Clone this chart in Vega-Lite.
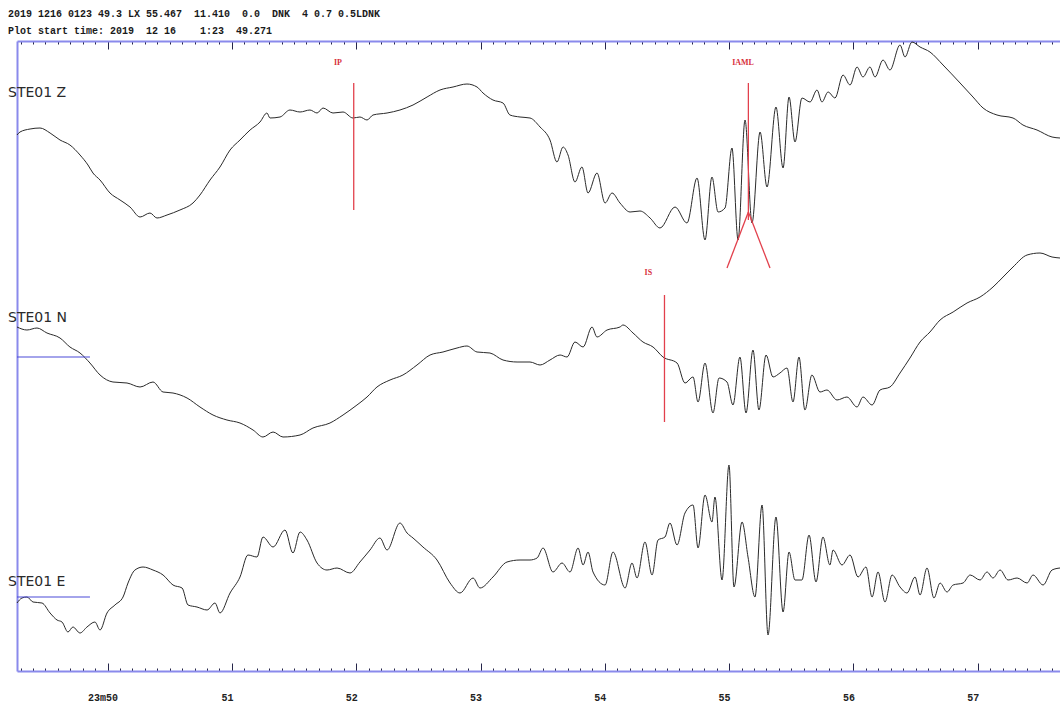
{
  "$schema": "https://vega.github.io/schema/vega-lite/v6.json",
  "width": 1043,
  "height": 630,
  "autosize": {"type": "none"},
  "padding": {"left": 17, "top": 41, "right": 0, "bottom": 33},
  "background": "white",
  "config": {
    "view": {"stroke": null},
    "title": {"font": "Liberation Mono", "fontSize": 10, "fontWeight": "bold", "color": "#1a1a1a", "subtitleFont": "Liberation Mono", "subtitleFontSize": 10, "subtitleFontWeight": "bold", "subtitleColor": "#1a1a1a", "subtitlePadding": 7, "anchor": "start", "offset": 4}
  },
  "title": {"text": "2019 1216 0123 49.3 LX 55.467 \u00a011.410 \u00a00.0 \u00a0DNK \u00a04 0.7 0.5LDNK", "subtitle": "Plot start time: 2019 \u00a012 16 \u00a0\u00a0\u00a01:23 \u00a049.271"},
  "datasets": {
    "traces": [
      {"c":"Z","t":49.271,"a":537},{"c":"Z","t":49.295,"a":540},{"c":"Z","t":49.376,"a":543},{"c":"Z","t":49.456,"a":544},{"c":"Z","t":49.537,"a":539},{"c":"Z","t":49.617,"a":532},{"c":"Z","t":49.697,"a":527},{"c":"Z","t":49.778,"a":517},{"c":"Z","t":49.842,"a":507},{"c":"Z","t":49.882,"a":499},{"c":"Z","t":49.939,"a":492},{"c":"Z","t":50.019,"a":479},{"c":"Z","t":50.1,"a":472},{"c":"Z","t":50.18,"a":465},{"c":"Z","t":50.261,"a":455},{"c":"Z","t":50.341,"a":459},{"c":"Z","t":50.397,"a":454},{"c":"Z","t":50.478,"a":457},{"c":"Z","t":50.582,"a":462},{"c":"Z","t":50.687,"a":469},{"c":"Z","t":50.743,"a":477},{"c":"Z","t":50.824,"a":492},{"c":"Z","t":50.904,"a":505},{"c":"Z","t":50.985,"a":522},{"c":"Z","t":51.065,"a":532},{"c":"Z","t":51.146,"a":542},{"c":"Z","t":51.226,"a":550},{"c":"Z","t":51.282,"a":559},{"c":"Z","t":51.306,"a":554},{"c":"Z","t":51.387,"a":555},{"c":"Z","t":51.467,"a":562},{"c":"Z","t":51.548,"a":560},{"c":"Z","t":51.628,"a":562},{"c":"Z","t":51.685,"a":559},{"c":"Z","t":51.733,"a":564},{"c":"Z","t":51.813,"a":559},{"c":"Z","t":51.894,"a":560},{"c":"Z","t":51.974,"a":554},{"c":"Z","t":52.03,"a":555},{"c":"Z","t":52.087,"a":552},{"c":"Z","t":52.135,"a":557},{"c":"Z","t":52.248,"a":559},{"c":"Z","t":52.352,"a":562},{"c":"Z","t":52.457,"a":567},{"c":"Z","t":52.57,"a":575},{"c":"Z","t":52.674,"a":582},{"c":"Z","t":52.779,"a":585},{"c":"Z","t":52.891,"a":588},{"c":"Z","t":52.972,"a":585},{"c":"Z","t":53.02,"a":579},{"c":"Z","t":53.1,"a":572},{"c":"Z","t":53.181,"a":569},{"c":"Z","t":53.237,"a":557},{"c":"Z","t":53.318,"a":555},{"c":"Z","t":53.398,"a":554},{"c":"Z","t":53.479,"a":545},{"c":"Z","t":53.559,"a":532},{"c":"Z","t":53.615,"a":510},{"c":"Z","t":53.664,"a":525},{"c":"Z","t":53.704,"a":517},{"c":"Z","t":53.76,"a":490},{"c":"Z","t":53.816,"a":505},{"c":"Z","t":53.865,"a":479},{"c":"Z","t":53.937,"a":499},{"c":"Z","t":54.002,"a":469},{"c":"Z","t":54.058,"a":479},{"c":"Z","t":54.122,"a":469},{"c":"Z","t":54.203,"a":460},{"c":"Z","t":54.283,"a":461},{"c":"Z","t":54.364,"a":454},{"c":"Z","t":54.444,"a":444},{"c":"Z","t":54.565,"a":465},{"c":"Z","t":54.661,"a":449},{"c":"Z","t":54.742,"a":494},{"c":"Z","t":54.806,"a":432},{"c":"Z","t":54.862,"a":495},{"c":"Z","t":54.911,"a":460},{"c":"Z","t":54.967,"a":464},{"c":"Z","t":55.023,"a":524},{"c":"Z","t":55.072,"a":432},{"c":"Z","t":55.128,"a":552},{"c":"Z","t":55.184,"a":449},{"c":"Z","t":55.249,"a":540},{"c":"Z","t":55.305,"a":485},{"c":"Z","t":55.377,"a":565},{"c":"Z","t":55.434,"a":504},{"c":"Z","t":55.482,"a":575},{"c":"Z","t":55.53,"a":530},{"c":"Z","t":55.586,"a":574},{"c":"Z","t":55.651,"a":570},{"c":"Z","t":55.707,"a":582},{"c":"Z","t":55.747,"a":570},{"c":"Z","t":55.796,"a":580},{"c":"Z","t":55.852,"a":574},{"c":"Z","t":55.916,"a":597},{"c":"Z","t":55.973,"a":587},{"c":"Z","t":56.029,"a":605},{"c":"Z","t":56.077,"a":595},{"c":"Z","t":56.133,"a":605},{"c":"Z","t":56.174,"a":595},{"c":"Z","t":56.238,"a":612},{"c":"Z","t":56.294,"a":602},{"c":"Z","t":56.375,"a":627},{"c":"Z","t":56.415,"a":615},{"c":"Z","t":56.471,"a":630},{"c":"Z","t":56.536,"a":625},{"c":"Z","t":56.616,"a":620},{"c":"Z","t":56.721,"a":607},{"c":"Z","t":56.858,"a":589},{"c":"Z","t":56.962,"a":575},{"c":"Z","t":57.043,"a":564},{"c":"Z","t":57.155,"a":557},{"c":"Z","t":57.284,"a":554},{"c":"Z","t":57.364,"a":547},{"c":"Z","t":57.477,"a":542},{"c":"Z","t":57.598,"a":535},{"c":"Z","t":57.662,"a":534},
      {"c":"N","t":49.271,"a":345},{"c":"N","t":49.351,"a":342},{"c":"N","t":49.432,"a":344},{"c":"N","t":49.512,"a":339},{"c":"N","t":49.617,"a":334},{"c":"N","t":49.697,"a":325},{"c":"N","t":49.778,"a":319},{"c":"N","t":49.858,"a":309},{"c":"N","t":49.939,"a":297},{"c":"N","t":50.043,"a":290},{"c":"N","t":50.156,"a":289},{"c":"N","t":50.261,"a":285},{"c":"N","t":50.365,"a":290},{"c":"N","t":50.446,"a":280},{"c":"N","t":50.526,"a":279},{"c":"N","t":50.639,"a":274},{"c":"N","t":50.743,"a":265},{"c":"N","t":50.848,"a":257},{"c":"N","t":50.96,"a":252},{"c":"N","t":51.065,"a":249},{"c":"N","t":51.17,"a":242},{"c":"N","t":51.25,"a":235},{"c":"N","t":51.331,"a":240},{"c":"N","t":51.411,"a":235},{"c":"N","t":51.548,"a":237},{"c":"N","t":51.652,"a":244},{"c":"N","t":51.789,"a":249},{"c":"N","t":51.894,"a":257},{"c":"N","t":52.006,"a":267},{"c":"N","t":52.087,"a":275},{"c":"N","t":52.167,"a":285},{"c":"N","t":52.272,"a":292},{"c":"N","t":52.376,"a":297},{"c":"N","t":52.489,"a":307},{"c":"N","t":52.594,"a":317},{"c":"N","t":52.698,"a":320},{"c":"N","t":52.811,"a":324},{"c":"N","t":52.891,"a":326},{"c":"N","t":52.972,"a":320},{"c":"N","t":53.076,"a":319},{"c":"N","t":53.181,"a":312},{"c":"N","t":53.294,"a":310},{"c":"N","t":53.398,"a":310},{"c":"N","t":53.479,"a":307},{"c":"N","t":53.559,"a":312},{"c":"N","t":53.64,"a":317},{"c":"N","t":53.696,"a":315},{"c":"N","t":53.76,"a":330},{"c":"N","t":53.825,"a":325},{"c":"N","t":53.897,"a":345},{"c":"N","t":53.937,"a":335},{"c":"N","t":54.018,"a":342},{"c":"N","t":54.122,"a":345},{"c":"N","t":54.146,"a":347},{"c":"N","t":54.227,"a":339},{"c":"N","t":54.307,"a":330},{"c":"N","t":54.388,"a":325},{"c":"N","t":54.468,"a":315},{"c":"N","t":54.581,"a":309},{"c":"N","t":54.645,"a":289},{"c":"N","t":54.71,"a":295},{"c":"N","t":54.75,"a":270},{"c":"N","t":54.806,"a":309},{"c":"N","t":54.87,"a":259},{"c":"N","t":54.919,"a":294},{"c":"N","t":54.983,"a":290},{"c":"N","t":55.031,"a":267},{"c":"N","t":55.087,"a":315},{"c":"N","t":55.136,"a":259},{"c":"N","t":55.192,"a":322},{"c":"N","t":55.24,"a":262},{"c":"N","t":55.297,"a":317},{"c":"N","t":55.353,"a":295},{"c":"N","t":55.409,"a":299},{"c":"N","t":55.466,"a":304},{"c":"N","t":55.514,"a":270},{"c":"N","t":55.562,"a":315},{"c":"N","t":55.61,"a":262},{"c":"N","t":55.666,"a":297},{"c":"N","t":55.731,"a":280},{"c":"N","t":55.787,"a":282},{"c":"N","t":55.868,"a":272},{"c":"N","t":55.948,"a":275},{"c":"N","t":56.029,"a":265},{"c":"N","t":56.077,"a":275},{"c":"N","t":56.15,"a":267},{"c":"N","t":56.214,"a":282},{"c":"N","t":56.294,"a":285},{"c":"N","t":56.375,"a":299},{"c":"N","t":56.455,"a":314},{"c":"N","t":56.536,"a":330},{"c":"N","t":56.616,"a":340},{"c":"N","t":56.697,"a":352},{"c":"N","t":56.802,"a":360},{"c":"N","t":56.914,"a":369},{"c":"N","t":57.019,"a":375},{"c":"N","t":57.123,"a":385},{"c":"N","t":57.204,"a":395},{"c":"N","t":57.284,"a":405},{"c":"N","t":57.397,"a":417},{"c":"N","t":57.501,"a":419},{"c":"N","t":57.598,"a":415},{"c":"N","t":57.662,"a":414},
      {"c":"E","t":49.271,"a":69},{"c":"E","t":49.311,"a":74},{"c":"E","t":49.351,"a":75},{"c":"E","t":49.4,"a":70},{"c":"E","t":49.472,"a":69},{"c":"E","t":49.537,"a":59},{"c":"E","t":49.593,"a":52},{"c":"E","t":49.633,"a":50},{"c":"E","t":49.681,"a":40},{"c":"E","t":49.721,"a":45},{"c":"E","t":49.778,"a":39},{"c":"E","t":49.834,"a":45},{"c":"E","t":49.898,"a":50},{"c":"E","t":49.939,"a":42},{"c":"E","t":49.995,"a":59},{"c":"E","t":50.059,"a":67},{"c":"E","t":50.124,"a":75},{"c":"E","t":50.164,"a":89},{"c":"E","t":50.22,"a":102},{"c":"E","t":50.285,"a":105},{"c":"E","t":50.365,"a":102},{"c":"E","t":50.446,"a":97},{"c":"E","t":50.526,"a":87},{"c":"E","t":50.599,"a":84},{"c":"E","t":50.647,"a":67},{"c":"E","t":50.719,"a":65},{"c":"E","t":50.8,"a":62},{"c":"E","t":50.864,"a":69},{"c":"E","t":50.904,"a":59},{"c":"E","t":50.985,"a":79},{"c":"E","t":51.065,"a":95},{"c":"E","t":51.129,"a":117},{"c":"E","t":51.202,"a":115},{"c":"E","t":51.25,"a":135},{"c":"E","t":51.331,"a":125},{"c":"E","t":51.427,"a":142},{"c":"E","t":51.491,"a":119},{"c":"E","t":51.548,"a":140},{"c":"E","t":51.604,"a":132},{"c":"E","t":51.685,"a":109},{"c":"E","t":51.765,"a":102},{"c":"E","t":51.846,"a":104},{"c":"E","t":51.95,"a":99},{"c":"E","t":52.03,"a":110},{"c":"E","t":52.111,"a":122},{"c":"E","t":52.191,"a":134},{"c":"E","t":52.248,"a":122},{"c":"E","t":52.352,"a":149},{"c":"E","t":52.409,"a":139},{"c":"E","t":52.457,"a":134},{"c":"E","t":52.537,"a":125},{"c":"E","t":52.65,"a":112},{"c":"E","t":52.755,"a":89},{"c":"E","t":52.835,"a":79},{"c":"E","t":52.94,"a":94},{"c":"E","t":52.996,"a":84},{"c":"E","t":53.1,"a":95},{"c":"E","t":53.213,"a":110},{"c":"E","t":53.318,"a":112},{"c":"E","t":53.398,"a":112},{"c":"E","t":53.455,"a":114},{"c":"E","t":53.503,"a":124},{"c":"E","t":53.583,"a":100},{"c":"E","t":53.656,"a":109},{"c":"E","t":53.72,"a":100},{"c":"E","t":53.785,"a":124},{"c":"E","t":53.825,"a":107},{"c":"E","t":53.865,"a":120},{"c":"E","t":53.905,"a":100},{"c":"E","t":54.002,"a":87},{"c":"E","t":54.066,"a":120},{"c":"E","t":54.163,"a":84},{"c":"E","t":54.219,"a":109},{"c":"E","t":54.259,"a":94},{"c":"E","t":54.323,"a":130},{"c":"E","t":54.38,"a":97},{"c":"E","t":54.428,"a":132},{"c":"E","t":54.484,"a":135},{"c":"E","t":54.524,"a":149},{"c":"E","t":54.581,"a":127},{"c":"E","t":54.645,"a":159},{"c":"E","t":54.71,"a":167},{"c":"E","t":54.75,"a":124},{"c":"E","t":54.806,"a":177},{"c":"E","t":54.862,"a":150},{"c":"E","t":54.886,"a":175},{"c":"E","t":54.943,"a":92},{"c":"E","t":54.999,"a":207},{"c":"E","t":55.039,"a":85},{"c":"E","t":55.104,"a":150},{"c":"E","t":55.152,"a":115},{"c":"E","t":55.208,"a":75},{"c":"E","t":55.265,"a":167},{"c":"E","t":55.313,"a":37},{"c":"E","t":55.377,"a":155},{"c":"E","t":55.434,"a":60},{"c":"E","t":55.482,"a":120},{"c":"E","t":55.53,"a":92},{"c":"E","t":55.586,"a":92},{"c":"E","t":55.643,"a":137},{"c":"E","t":55.699,"a":90},{"c":"E","t":55.755,"a":135},{"c":"E","t":55.811,"a":107},{"c":"E","t":55.836,"a":122},{"c":"E","t":55.908,"a":107},{"c":"E","t":55.973,"a":117},{"c":"E","t":56.037,"a":95},{"c":"E","t":56.101,"a":105},{"c":"E","t":56.15,"a":75},{"c":"E","t":56.198,"a":100},{"c":"E","t":56.254,"a":70},{"c":"E","t":56.311,"a":97},{"c":"E","t":56.375,"a":85},{"c":"E","t":56.431,"a":79},{"c":"E","t":56.496,"a":95},{"c":"E","t":56.536,"a":77},{"c":"E","t":56.592,"a":104},{"c":"E","t":56.648,"a":74},{"c":"E","t":56.697,"a":89},{"c":"E","t":56.753,"a":80},{"c":"E","t":56.802,"a":87},{"c":"E","t":56.882,"a":89},{"c":"E","t":56.939,"a":97},{"c":"E","t":57.019,"a":92},{"c":"E","t":57.075,"a":100},{"c":"E","t":57.123,"a":94},{"c":"E","t":57.18,"a":102},{"c":"E","t":57.244,"a":92},{"c":"E","t":57.317,"a":94},{"c":"E","t":57.397,"a":89},{"c":"E","t":57.445,"a":97},{"c":"E","t":57.526,"a":87},{"c":"E","t":57.598,"a":102},{"c":"E","t":57.662,"a":104}
    ],
    "picks": [
      {"p":"IP","t":51.98,"t2":51.98,"a":589,"a2":462},
      {"p":"IAML","t":55.155,"t2":55.155,"a":589,"a2":452},
      {"p":"IAML","t":55.155,"t2":54.983,"a":460,"a2":404},
      {"p":"IAML","t":55.155,"t2":55.329,"a":460,"a2":404},
      {"p":"IS","t":54.48,"t2":54.48,"a":377,"a2":250}
    ],
    "pickLabels": [
      {"p":"IP","t":51.853,"a":609},
      {"p":"IAML","t":55.112,"a":609},
      {"p":"IS","t":54.35,"a":399}
    ],
    "stations": [
      {"s":"STE01 Z","t":49.199,"a":579},
      {"s":"STE01 N","t":49.199,"a":354},
      {"s":"STE01 E","t":49.199,"a":90}
    ],
    "baselines": [
      {"c":"N","t":49.271,"t2":49.858,"a":315},
      {"c":"E","t":49.271,"t2":49.858,"a":75}
    ]
  },
  "resolve": {"axis": {"x": "independent", "y": "independent"}},
  "layer": [
    {
      "data": {"name": "traces"},
      "mark": {"type": "line", "color": "#2a2a2a", "strokeWidth": 1, "interpolate": "monotone"},
      "encoding": {
        "x": {"field": "t", "type": "quantitative", "scale": {"domain": [49.271, 57.662], "nice": false, "zero": false},
          "axis": {"orient": "bottom", "title": null, "grid": false, "domainColor": "#8a8aec", "domainWidth": 2,
            "values": [49.3,49.4,49.5,49.6,49.7,49.8,49.9,50,50.1,50.2,50.3,50.4,50.5,50.6,50.7,50.8,50.9,51,51.1,51.2,51.3,51.4,51.5,51.6,51.7,51.8,51.9,52,52.1,52.2,52.3,52.4,52.5,52.6,52.7,52.8,52.9,53,53.1,53.2,53.3,53.4,53.5,53.6,53.7,53.8,53.9,54,54.1,54.2,54.3,54.4,54.5,54.6,54.7,54.8,54.9,55,55.1,55.2,55.3,55.4,55.5,55.6,55.7,55.8,55.9,56,56.1,56.2,56.3,56.4,56.5,56.6,56.7,56.8,56.9,57,57.1,57.2,57.3,57.4,57.5,57.6],
            "tickColor": "#26264a", "tickWidth": 1,
            "tickSize": {"condition": {"test": "abs(datum.value - round(datum.value)) < 0.01", "value": -8}, "value": -3},
            "labelExpr": "abs(datum.value - round(datum.value)) < 0.01 ? (round(datum.value) == 50 ? '23m50' : format(round(datum.value), 'd')) : ''",
            "labelOverlap": false, "labelFlush": false, "labelFont": "Liberation Mono", "labelFontWeight": "bold", "labelFontSize": 10, "labelColor": "#222222", "labelPadding": 34, "labelOffset": -5, "labelBaseline": "middle"}},
        "y": {"field": "a", "type": "quantitative", "scale": {"domain": [1, 631], "nice": false, "zero": false},
          "axis": {"orient": "left", "title": null, "grid": false, "ticks": false, "labels": false, "domainColor": "#8a8aec", "domainWidth": 2}},
        "detail": {"field": "c"}
      }
    },
    {
      "data": {"name": "baselines"},
      "mark": {"type": "rule", "color": "#4a4ad8", "strokeWidth": 1.2},
      "encoding": {
        "x": {"field": "t", "type": "quantitative", "axis": {"orient": "top", "title": null, "grid": false, "domainColor": "#8a8aec", "domainWidth": 2, "labels": false,
            "values": [49.3,49.4,49.5,49.6,49.7,49.8,49.9,50,50.1,50.2,50.3,50.4,50.5,50.6,50.7,50.8,50.9,51,51.1,51.2,51.3,51.4,51.5,51.6,51.7,51.8,51.9,52,52.1,52.2,52.3,52.4,52.5,52.6,52.7,52.8,52.9,53,53.1,53.2,53.3,53.4,53.5,53.6,53.7,53.8,53.9,54,54.1,54.2,54.3,54.4,54.5,54.6,54.7,54.8,54.9,55,55.1,55.2,55.3,55.4,55.5,55.6,55.7,55.8,55.9,56,56.1,56.2,56.3,56.4,56.5,56.6,56.7,56.8,56.9,57,57.1,57.2,57.3,57.4,57.5,57.6],
            "tickColor": "#26264a", "tickWidth": 1,
            "tickSize": {"condition": {"test": "abs(datum.value - round(datum.value)) < 0.01", "value": -8}, "value": -3}}},
        "x2": {"field": "t2"},
        "y": {"field": "a", "type": "quantitative", "axis": null}
      }
    },
    {
      "data": {"name": "picks"},
      "mark": {"type": "rule", "color": "#e2404c", "strokeWidth": 1.3},
      "encoding": {
        "x": {"field": "t", "type": "quantitative", "axis": null},
        "x2": {"field": "t2"},
        "y": {"field": "a", "type": "quantitative", "axis": null},
        "y2": {"field": "a2"}
      }
    },
    {
      "data": {"name": "pickLabels"},
      "mark": {"type": "text", "color": "#d8303c", "font": "Liberation Serif", "fontWeight": "bold", "fontSize": 8, "align": "center", "baseline": "middle"},
      "encoding": {
        "x": {"field": "t", "type": "quantitative", "axis": null},
        "y": {"field": "a", "type": "quantitative", "axis": null},
        "text": {"field": "p"}
      }
    },
    {
      "data": {"name": "stations"},
      "mark": {"type": "text", "color": "#2a2a2a", "font": "DejaVu Sans", "fontSize": 14, "align": "left", "baseline": "middle"},
      "encoding": {
        "x": {"field": "t", "type": "quantitative", "axis": null},
        "y": {"field": "a", "type": "quantitative", "axis": null},
        "text": {"field": "s"}
      }
    }
  ]
}
